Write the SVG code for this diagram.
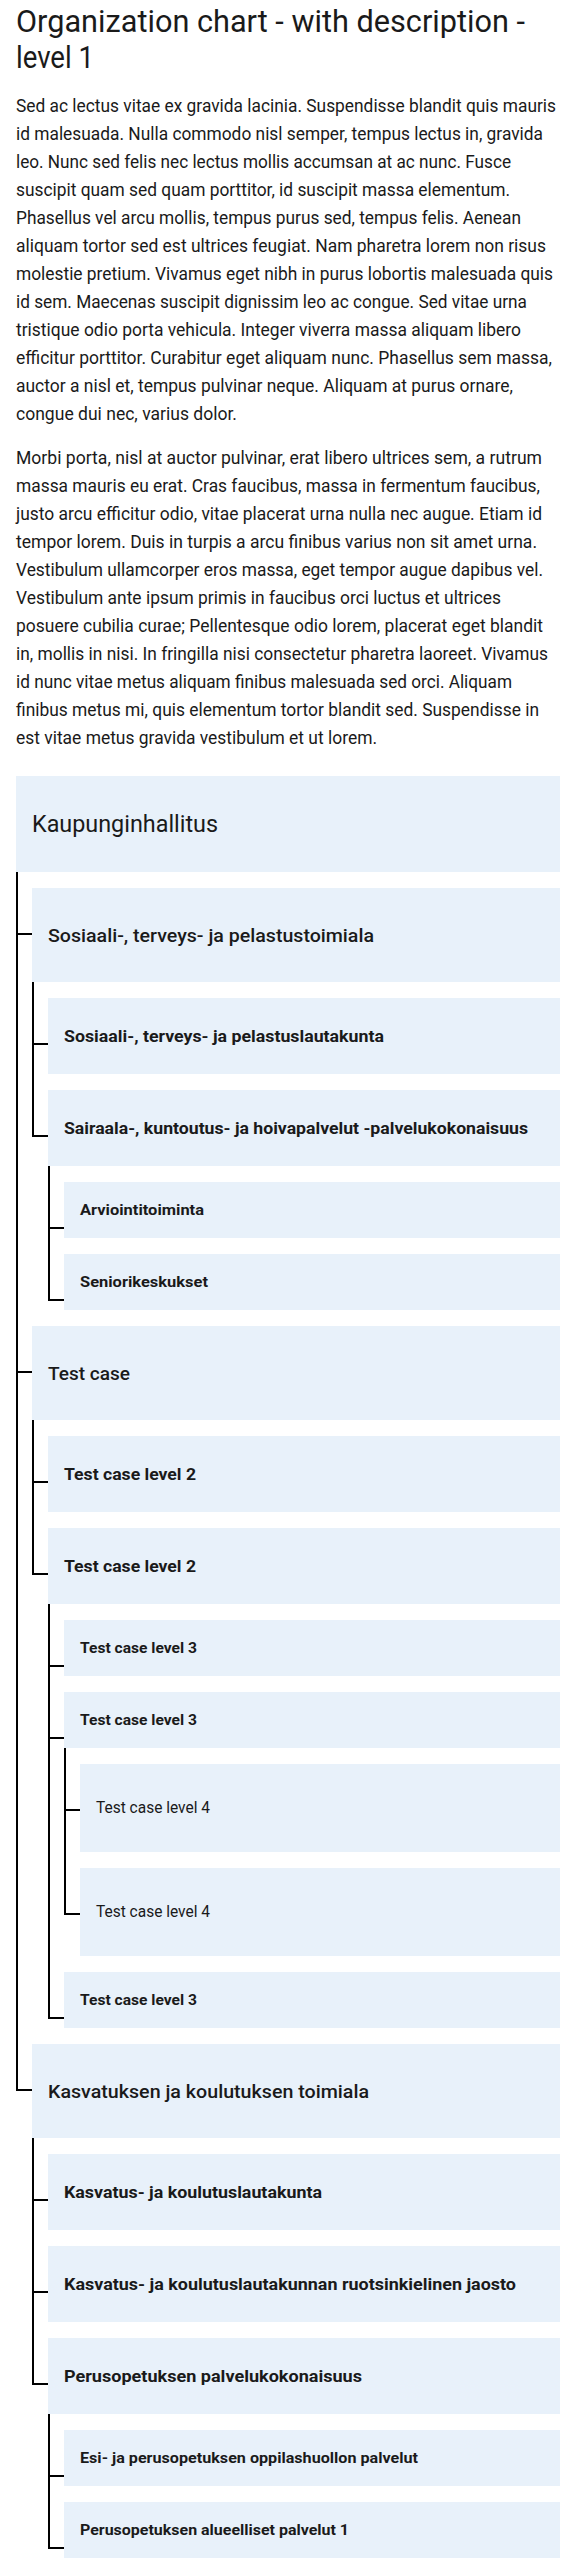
<svg xmlns="http://www.w3.org/2000/svg" width="576" height="2558" viewBox="0 0 576 2558">
<style>
text{font-family:Roboto,"Liberation Sans",Arial,sans-serif;fill:#1a1a1a}
.t{font-size:32px;font-weight:400}
.p{font-size:18px;font-weight:400}
.box{fill:#e8f1fa}
.l0{font-size:24px;font-weight:400}
.l1{font-size:18px;font-weight:500}
.l2{font-size:16px;font-weight:700}
.l3{font-size:14px;font-weight:700}
.l4{font-size:16px;font-weight:400}
.c{fill:none;stroke:#000;stroke-width:2;stroke-linejoin:miter;stroke-linecap:butt}
</style>
<g id="title">
<text class="t" x="16" y="32" textLength="509" lengthAdjust="spacingAndGlyphs">Organization chart - with description -</text>
<text class="t" x="16" y="68" textLength="78" lengthAdjust="spacingAndGlyphs">level 1</text>
</g>
<g id="paragraph1" class="p">
<text class="p" x="16" y="112" textLength="540" lengthAdjust="spacingAndGlyphs">Sed ac lectus vitae ex gravida lacinia. Suspendisse blandit quis mauris</text>
<text class="p" x="16" y="140" textLength="527" lengthAdjust="spacingAndGlyphs">id malesuada. Nulla commodo nisl semper, tempus lectus in, gravida</text>
<text class="p" x="16" y="168" textLength="495" lengthAdjust="spacingAndGlyphs">leo. Nunc sed felis nec lectus mollis accumsan at ac nunc. Fusce</text>
<text class="p" x="16" y="196" textLength="494" lengthAdjust="spacingAndGlyphs">suscipit quam sed quam porttitor, id suscipit massa elementum.</text>
<text class="p" x="16" y="224" textLength="505" lengthAdjust="spacingAndGlyphs">Phasellus vel arcu mollis, tempus purus sed, tempus felis. Aenean</text>
<text class="p" x="16" y="252" textLength="530" lengthAdjust="spacingAndGlyphs">aliquam tortor sed est ultrices feugiat. Nam pharetra lorem non risus</text>
<text class="p" x="16" y="280" textLength="537" lengthAdjust="spacingAndGlyphs">molestie pretium. Vivamus eget nibh in purus lobortis malesuada quis</text>
<text class="p" x="16" y="308" textLength="511" lengthAdjust="spacingAndGlyphs">id sem. Maecenas suscipit dignissim leo ac congue. Sed vitae urna</text>
<text class="p" x="16" y="336" textLength="505" lengthAdjust="spacingAndGlyphs">tristique odio porta vehicula. Integer viverra massa aliquam libero</text>
<text class="p" x="16" y="364" textLength="536" lengthAdjust="spacingAndGlyphs">efficitur porttitor. Curabitur eget aliquam nunc. Phasellus sem massa,</text>
<text class="p" x="16" y="392" textLength="497" lengthAdjust="spacingAndGlyphs">auctor a nisl et, tempus pulvinar neque. Aliquam at purus ornare,</text>
<text class="p" x="16" y="420" textLength="221" lengthAdjust="spacingAndGlyphs">congue dui nec, varius dolor.</text>
</g>
<g id="paragraph2">
<text class="p" x="16" y="464" textLength="526" lengthAdjust="spacingAndGlyphs">Morbi porta, nisl at auctor pulvinar, erat libero ultrices sem, a rutrum</text>
<text class="p" x="16" y="492" textLength="524" lengthAdjust="spacingAndGlyphs">massa mauris eu erat. Cras faucibus, massa in fermentum faucibus,</text>
<text class="p" x="16" y="520" textLength="526" lengthAdjust="spacingAndGlyphs">justo arcu efficitur odio, vitae placerat urna nulla nec augue. Etiam id</text>
<text class="p" x="16" y="548" textLength="521" lengthAdjust="spacingAndGlyphs">tempor lorem. Duis in turpis a arcu finibus varius non sit amet urna.</text>
<text class="p" x="16" y="576" textLength="527" lengthAdjust="spacingAndGlyphs">Vestibulum ullamcorper eros massa, eget tempor augue dapibus vel.</text>
<text class="p" x="16" y="604" textLength="485" lengthAdjust="spacingAndGlyphs">Vestibulum ante ipsum primis in faucibus orci luctus et ultrices</text>
<text class="p" x="16" y="632" textLength="527" lengthAdjust="spacingAndGlyphs">posuere cubilia curae; Pellentesque odio lorem, placerat eget blandit</text>
<text class="p" x="16" y="660" textLength="532" lengthAdjust="spacingAndGlyphs">in, mollis in nisi. In fringilla nisi consectetur pharetra laoreet. Vivamus</text>
<text class="p" x="16" y="688" textLength="496" lengthAdjust="spacingAndGlyphs">id nunc vitae metus aliquam finibus malesuada sed orci. Aliquam</text>
<text class="p" x="16" y="716" textLength="523" lengthAdjust="spacingAndGlyphs">finibus metus mi, quis elementum tortor blandit sed. Suspendisse in</text>
<text class="p" x="16" y="744" textLength="361" lengthAdjust="spacingAndGlyphs">est vitae metus gravida vestibulum et ut lorem.</text>
</g>
<g id="n0"><rect class="box" x="16" y="776" width="544" height="96"/><text class="l0" x="32" y="832" textLength="186" lengthAdjust="spacingAndGlyphs">Kaupunginhallitus</text></g>
<g id="n1"><rect class="box" x="32" y="888" width="528" height="94"/><text class="l1" x="48" y="942" textLength="326" lengthAdjust="spacingAndGlyphs">Sosiaali-, terveys- ja pelastustoimiala</text></g>
<g id="n2"><rect class="box" x="48" y="998" width="512" height="76"/><text class="l2" x="64" y="1042" textLength="320" lengthAdjust="spacingAndGlyphs">Sosiaali-, terveys- ja pelastuslautakunta</text></g>
<g id="n3"><rect class="box" x="48" y="1090" width="512" height="76"/><text class="l2" x="64" y="1134" textLength="464" lengthAdjust="spacingAndGlyphs">Sairaala-, kuntoutus- ja hoivapalvelut -palvelukokonaisuus</text></g>
<g id="n4"><rect class="box" x="64" y="1182" width="496" height="56"/><text class="l3" x="80" y="1215" textLength="124" lengthAdjust="spacingAndGlyphs">Arviointitoiminta</text></g>
<g id="n5"><rect class="box" x="64" y="1254" width="496" height="56"/><text class="l3" x="80" y="1287" textLength="128" lengthAdjust="spacingAndGlyphs">Seniorikeskukset</text></g>
<g id="n6"><rect class="box" x="32" y="1326" width="528" height="94"/><text class="l1" x="48" y="1380" textLength="82" lengthAdjust="spacingAndGlyphs">Test case</text></g>
<g id="n7"><rect class="box" x="48" y="1436" width="512" height="76"/><text class="l2" x="64" y="1480" textLength="132" lengthAdjust="spacingAndGlyphs">Test case level 2</text></g>
<g id="n8"><rect class="box" x="48" y="1528" width="512" height="76"/><text class="l2" x="64" y="1572" textLength="132" lengthAdjust="spacingAndGlyphs">Test case level 2</text></g>
<g id="n9"><rect class="box" x="64" y="1620" width="496" height="56"/><text class="l3" x="80" y="1653" textLength="117" lengthAdjust="spacingAndGlyphs">Test case level 3</text></g>
<g id="n10"><rect class="box" x="64" y="1692" width="496" height="56"/><text class="l3" x="80" y="1725" textLength="117" lengthAdjust="spacingAndGlyphs">Test case level 3</text></g>
<g id="n11"><rect class="box" x="80" y="1764" width="480" height="88"/><text class="l4" x="96" y="1813" textLength="114" lengthAdjust="spacingAndGlyphs">Test case level 4</text></g>
<g id="n12"><rect class="box" x="80" y="1868" width="480" height="88"/><text class="l4" x="96" y="1917" textLength="114" lengthAdjust="spacingAndGlyphs">Test case level 4</text></g>
<g id="n13"><rect class="box" x="64" y="1972" width="496" height="56"/><text class="l3" x="80" y="2005" textLength="117" lengthAdjust="spacingAndGlyphs">Test case level 3</text></g>
<g id="n14"><rect class="box" x="32" y="2044" width="528" height="94"/><text class="l1" x="48" y="2098" textLength="321" lengthAdjust="spacingAndGlyphs">Kasvatuksen ja koulutuksen toimiala</text></g>
<g id="n15"><rect class="box" x="48" y="2154" width="512" height="76"/><text class="l2" x="64" y="2198" textLength="258" lengthAdjust="spacingAndGlyphs">Kasvatus- ja koulutuslautakunta</text></g>
<g id="n16"><rect class="box" x="48" y="2246" width="512" height="76"/><text class="l2" x="64" y="2290" textLength="452" lengthAdjust="spacingAndGlyphs">Kasvatus- ja koulutuslautakunnan ruotsinkielinen jaosto</text></g>
<g id="n17"><rect class="box" x="48" y="2338" width="512" height="76"/><text class="l2" x="64" y="2382" textLength="298" lengthAdjust="spacingAndGlyphs">Perusopetuksen palvelukokonaisuus</text></g>
<g id="n18"><rect class="box" x="64" y="2430" width="496" height="56"/><text class="l3" x="80" y="2463" textLength="338" lengthAdjust="spacingAndGlyphs">Esi- ja perusopetuksen oppilashuollon palvelut</text></g>
<g id="n19"><rect class="box" x="64" y="2502" width="496" height="56"/><text class="l3" x="80" y="2535" textLength="269" lengthAdjust="spacingAndGlyphs">Perusopetuksen alueelliset palvelut 1</text></g>
<g id="connectors">
<path class="c" d="M17 872 V2090 H32 M16 934 H32 M16 1372 H32"/>
<path class="c" d="M33 982 V1136 H48 M32 1044 H48"/>
<path class="c" d="M49 1166 V1300 H64 M48 1228 H64"/>
<path class="c" d="M33 1420 V1574 H48 M32 1482 H48"/>
<path class="c" d="M49 1604 V2018 H64 M48 1666 H64 M48 1738 H64"/>
<path class="c" d="M65 1748 V1914 H80 M64 1810 H80"/>
<path class="c" d="M33 2138 V2384 H48 M32 2200 H48 M32 2292 H48"/>
<path class="c" d="M49 2414 V2548 H64 M48 2476 H64"/>
</g>
</svg>
